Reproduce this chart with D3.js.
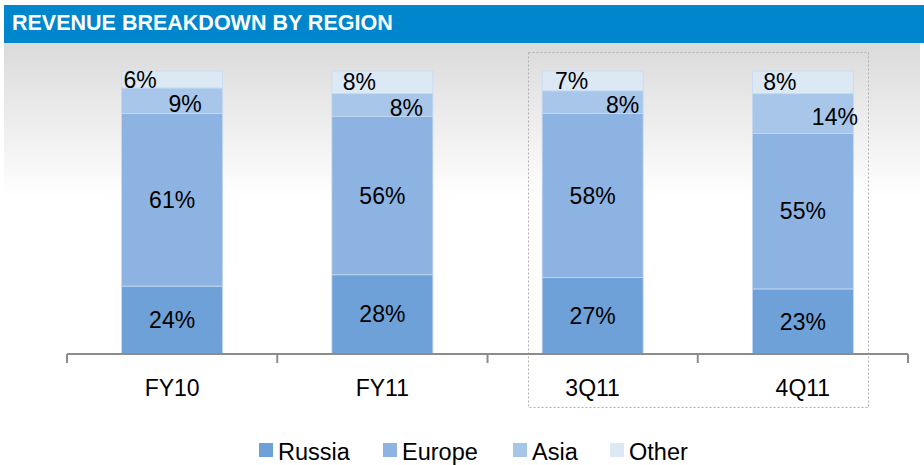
<!DOCTYPE html>
<html>
<head>
<meta charset="utf-8">
<script src="https://cdn.jsdelivr.net/npm/d3@7"></script>
<style>
  body { margin: 0; background: #fff; }
  svg { display: block; font-family: "Liberation Sans", Arial, sans-serif; }
</style>
</head>
<body>
<svg id="chart" width="924" height="465"></svg>
<script>
// datos
var categories = ["FY10", "FY11", "3Q11", "4Q11"];
var regions = ["Russia", "Europe", "Asia", "Other"];
var russia = [24, 28, 27, 23];
var europe = [61, 56, 58, 55];
var asia   = [9, 8, 8, 14];
var other  = [6, 8, 7, 8];

var colors = { Russia: "#6fa1d9", Europe: "#8db3e3", Asia: "#a7c6ea", Other: "#dde8f5" };

var svg = d3.select("#chart");

// fondo
var defs = svg.append("defs");
var grad = defs.append("linearGradient").attr("id", "bg").attr("x1", 0).attr("y1", 0).attr("x2", 0).attr("y2", 1);
grad.append("stop").attr("offset", "0%").attr("stop-color", "#dadada");
grad.append("stop").attr("offset", "100%").attr("stop-color", "#ffffff");

svg.append("rect").attr("x", 4).attr("y", 42).attr("width", 916).attr("height", 155).attr("fill", "url(#bg)");

// titulo
svg.append("rect").attr("x", 4).attr("y", 5).attr("width", 920).attr("height", 38).attr("fill", "#0086cd");
svg.append("text").attr("x", 12).attr("y", 30)
  .attr("fill", "#fff").attr("font-weight", "bold").attr("font-size", 21.5)
  .text("REVENUE BREAKDOWN BY REGION");

// escalas
var x = d3.scaleBand().domain(categories).range([67, 908]).paddingInner(0).paddingOuter(0);
var y = d3.scaleLinear().domain([0, 100]).range([354, 71]);
var barW = 101;

var rows = categories.map(function(c, i) {
  return { cat: c, Russia: russia[i], Europe: europe[i], Asia: asia[i], Other: other[i] };
});
var series = d3.stack().keys(regions)(rows);

// recuadro punteado
svg.append("rect").attr("x", 528.5).attr("y", 52.5).attr("width", 340).attr("height", 355)
  .attr("fill", "none").attr("stroke", "#b0b0b0").attr("stroke-dasharray", "2,2");

var g = svg.append("g");
var serie = g.selectAll(".serie").data(series).enter().append("g")
  .attr("fill", function(d) { return colors[d.key]; });

serie.selectAll("rect").data(function(d) { return d; }).enter().append("rect")
  .attr("x", function(d) { return x(d.data.cat) + x.bandwidth() / 2 - barW / 2; })
  .attr("y", function(d) { return y(d[1]); })
  .attr("width", barW)
  .attr("height", function(d) { return y(d[0]) - y(d[1]); })
  .attr("stroke", "#c5d9f1").attr("stroke-width", 0.8);

// etiquetas (desplazamiento horizontal de las pequeñas)
var nudge = {
  Russia: [0, 0, 0, 0],
  Europe: [0, 0, 0, 0],
  Asia:   [13, 24, 30, 32],
  Other:  [-32, -23, -21, -23]
};
serie.each(function(s) {
  d3.select(this).selectAll("text").data(s).enter().append("text")
    .attr("x", function(d, i) { return x(d.data.cat) + x.bandwidth() / 2 + nudge[s.key][i]; })
    .attr("y", function(d) { return (y(d[0]) + y(d[1])) / 2 + (s.key == "Asia" ? 3 : 0); })
    .attr("dy", "0.35em")
    .attr("text-anchor", "middle")
    .attr("fill", "#000").attr("font-size", 23)
    .text(function(d) { return (d[1] - d[0]) + "%"; });
});

// eje
var axis = svg.append("g").attr("transform", "translate(0,354)")
  .call(d3.axisBottom(x).tickSize(0).tickPadding(26));
axis.select(".domain").attr("stroke", "#8c8c8c").attr("stroke-width", 2).attr("d", "M67,0H908");
axis.selectAll("text").attr("font-size", 23).attr("fill", "#000").attr("font-family", "Liberation Sans, Arial, sans-serif");
var bounds = [67].concat(categories.map(function(c) { return x(c) + x.bandwidth(); }));
axis.selectAll(".sep").data(bounds).enter().append("line")
  .attr("x1", function(d) { return d; }).attr("x2", function(d) { return d; })
  .attr("y1", 0).attr("y2", 9).attr("stroke", "#8c8c8c").attr("stroke-width", 2);

// leyenda
var legX = [259, 383, 513, 610];
var leg = svg.append("g").selectAll("g").data(regions).enter().append("g")
  .attr("transform", function(d, i) { return "translate(" + legX[i] + ",443)"; });
leg.append("rect").attr("width", 14).attr("height", 14).attr("fill", function(d) { return colors[d]; });
leg.append("text").attr("x", 19).attr("y", 17).attr("font-size", 23.5).attr("fill", "#000").text(function(d) { return d; });
</script>
</body>
</html>
